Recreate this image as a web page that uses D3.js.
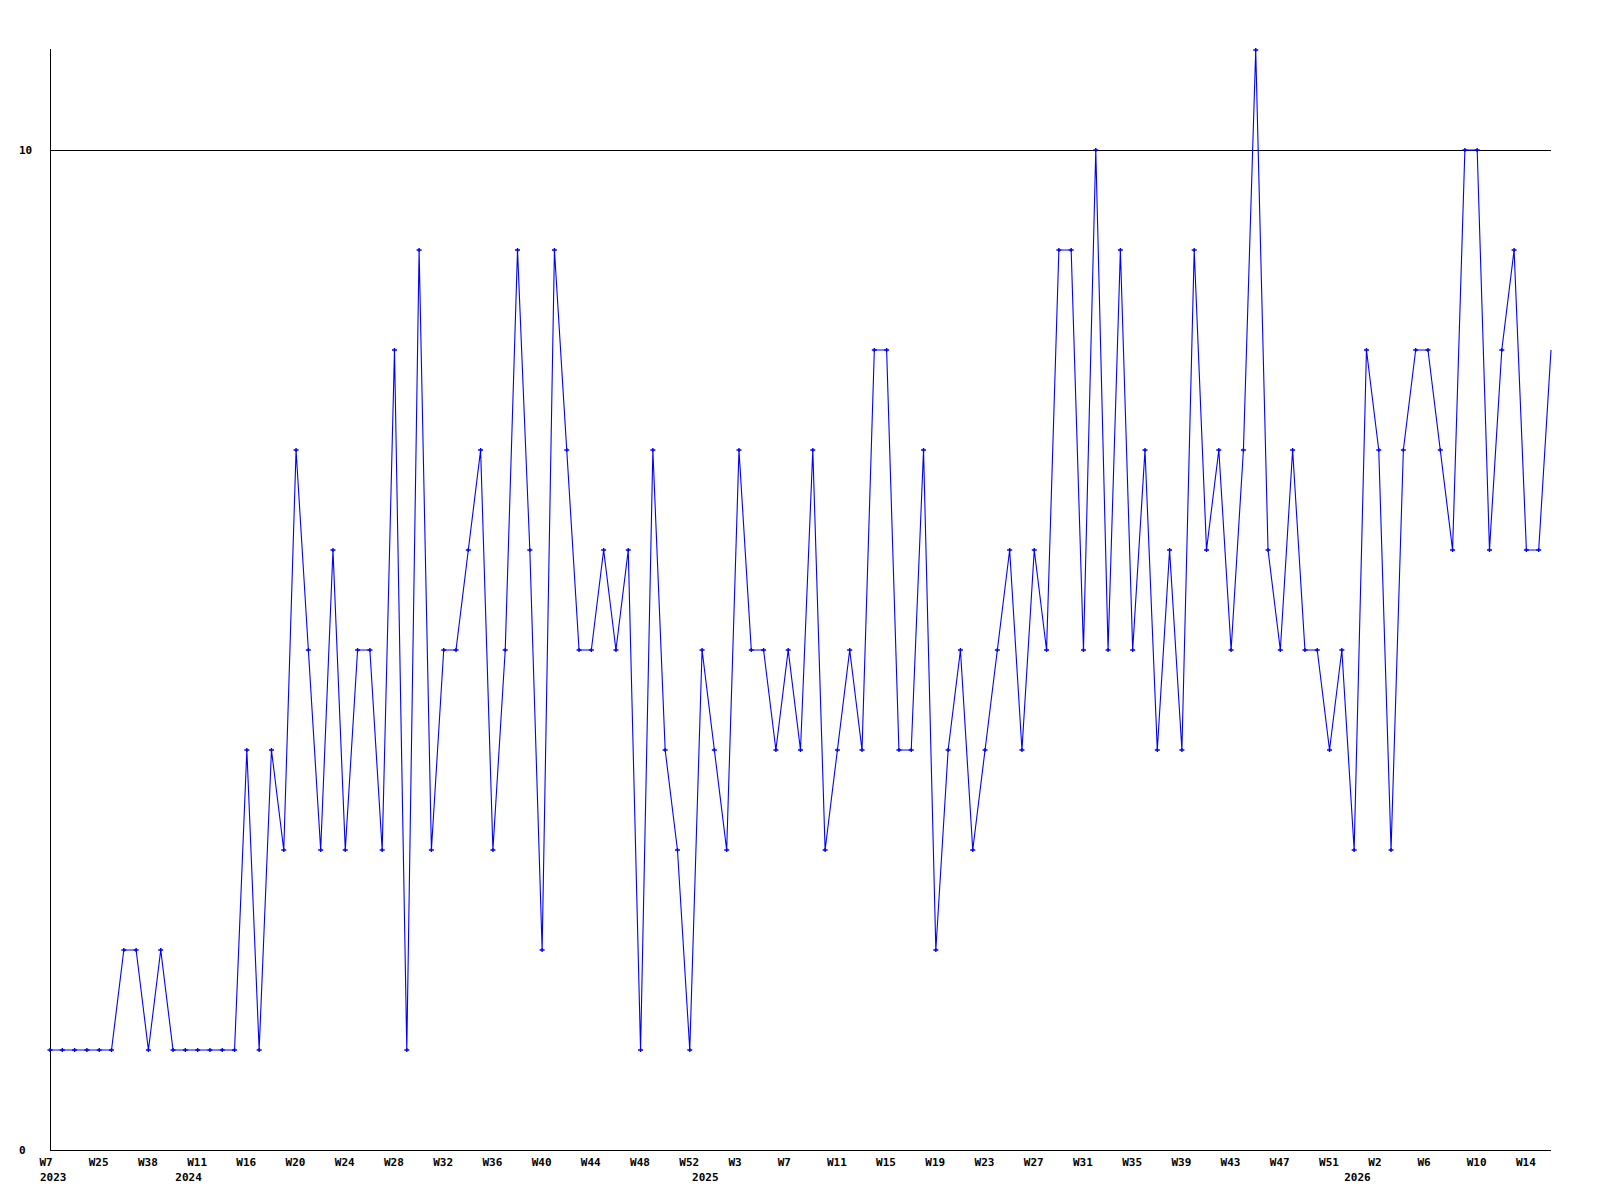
<!DOCTYPE html>
<html>
<head>
<meta charset="utf-8">
<script src="https://cdn.jsdelivr.net/npm/d3@7"></script>
<style>
  html, body { margin: 0; padding: 0; background: #fff; }
  svg { display: block; }
  text { font-family: "DejaVu Sans Mono", "Liberation Mono", monospace; font-weight: bold; font-size: 11px; fill: #000; }
</style>
</head>
<body>
<svg id="chart" width="1600" height="1200"></svg>
<script>
// ---- data ----
const categories = [
  "2023-W07","2023-W11","2023-W16","2023-W20","2023-W25","2023-W28","2023-W31","2023-W34","2023-W38","2023-W42",
  "2023-W47","2024-W02","2024-W11","2024-W12","2024-W13","2024-W15","2024-W16","2024-W17","2024-W18","2024-W19",
  "2024-W20","2024-W21","2024-W22","2024-W23","2024-W24","2024-W25","2024-W26","2024-W27","2024-W28","2024-W29",
  "2024-W30","2024-W31","2024-W32","2024-W33","2024-W34","2024-W35","2024-W36","2024-W37","2024-W38","2024-W39",
  "2024-W40","2024-W41","2024-W42","2024-W43","2024-W44","2024-W45","2024-W46","2024-W47","2024-W48","2024-W49",
  "2024-W50","2024-W51","2024-W52","2025-W00","2025-W01","2025-W02","2025-W03","2025-W04","2025-W05","2025-W06",
  "2025-W07","2025-W08","2025-W09","2025-W10","2025-W11","2025-W12","2025-W13","2025-W14","2025-W15","2025-W16",
  "2025-W17","2025-W18","2025-W19","2025-W20","2025-W21","2025-W22","2025-W23","2025-W24","2025-W25","2025-W26",
  "2025-W27","2025-W28","2025-W29","2025-W30","2025-W31","2025-W32","2025-W33","2025-W34","2025-W35","2025-W36",
  "2025-W37","2025-W38","2025-W39","2025-W40","2025-W41","2025-W42","2025-W43","2025-W44","2025-W45","2025-W46",
  "2025-W47","2025-W48","2025-W49","2025-W50","2025-W51","2025-W52","2026-W00","2026-W01","2026-W02","2026-W03",
  "2026-W04","2026-W05","2026-W06","2026-W07","2026-W08","2026-W09","2026-W10","2026-W11","2026-W12","2026-W13",
  "2026-W14","2026-W15","2026-W16"
];

const values = [
  1,1,1,1,1,1,2,2,1,2,
  1,1,1,1,1,1,4,1,4,3,
  7,5,3,6,3,5,5,3,8,1,
  9,3,5,5,6,7,3,5,9,6,
  2,9,7,5,5,6,5,6,1,7,
  4,3,1,5,4,3,7,5,5,4,
  5,4,7,3,4,5,4,8,8,4,
  4,7,2,4,5,3,4,5,6,4,
  6,5,9,9,5,10,5,9,5,7,
  4,6,4,9,6,7,5,7,11,6,
  5,7,5,5,4,5,3,8,7,3,
  7,8,8,7,6,10,10,6,8,9,
  6,6,8
];

const xTickCategories = [
  "2023-W07","2023-W25","2023-W38","2024-W11","2024-W16","2024-W20","2024-W24","2024-W28","2024-W32","2024-W36",
  "2024-W40","2024-W44","2024-W48","2024-W52","2025-W03","2025-W07","2025-W11","2025-W15","2025-W19","2025-W23",
  "2025-W27","2025-W31","2025-W35","2025-W39","2025-W43","2025-W47","2025-W51","2026-W02","2026-W06","2026-W10",
  "2026-W14"
];
const xTickLabels = [
  "W7","W25","W38","W11","W16","W20","W24","W28","W32","W36",
  "W40","W44","W48","W52","W3","W7","W11","W15","W19","W23",
  "W27","W31","W35","W39","W43","W47","W51","W2","W6","W10",
  "W14"
];

const yearLabels = ["2023","2024","2025","2026"];
const yearCategories = ["2023-W07","2024-W02","2025-W00","2026-W00"];

const yTicks = [0, 10];

// ---- layout ----
const plotLeft = 50, plotRight = 1551, plotTop = 50, plotBottom = 1150;
const svg = d3.select("#chart");

const x = d3.scalePoint().domain(categories).range([plotLeft, plotRight]);
const y = d3.scaleLinear().domain([0, 11]).range([plotBottom, plotTop]);

// grid line at 10
svg.append("g").selectAll("line").data(yTicks.filter(d => d > 0)).join("line")
  .attr("x1", plotLeft).attr("x2", plotRight)
  .attr("y1", d => Math.round(y(d)) + 0.5).attr("y2", d => Math.round(y(d)) + 0.5)
  .attr("stroke", "#000").attr("stroke-width", 1);

// axes lines
svg.append("line").attr("x1", plotLeft + 0.5).attr("x2", plotLeft + 0.5)
  .attr("y1", plotTop - 1).attr("y2", plotBottom + 0.5).attr("stroke", "#000");
svg.append("line").attr("x1", plotLeft).attr("x2", plotRight)
  .attr("y1", plotBottom + 0.5).attr("y2", plotBottom + 0.5).attr("stroke", "#000");

// y labels
svg.append("g").selectAll("text").data(yTicks).join("text")
  .attr("x", 19).attr("y", d => y(d) + 4)
  .attr("text-anchor", "start")
  .text(d => d);

// x tick labels (left-anchored just before each point)
const xAxis = d3.axisBottom(x).tickValues(xTickCategories)
  .tickFormat((d, i) => xTickLabels[i]).tickSize(0).tickPadding(0);
const gx = svg.append("g").attr("transform", `translate(0,${plotBottom})`).call(xAxis);
gx.select(".domain").remove();
gx.selectAll("text")
  .attr("y", 16).attr("dy", 0).attr("x", -11)
  .attr("text-anchor", "start")
  .style("font-family", "\"DejaVu Sans Mono\", monospace")
  .style("font-weight", "bold").style("font-size", "11px").attr("fill", "#000");

// year labels
svg.append("g").selectAll("text").data(yearLabels).join("text")
  .attr("x", (d, i) => x(yearCategories[i]) - 10)
  .attr("y", plotBottom + 31)
  .attr("text-anchor", "start")
  .text(d => d);

// line
const pts = categories.map((c, i) => ({ c, v: values[i], i }));
svg.append("path").datum(pts)
  .attr("fill", "none").attr("stroke", "#0000ff").attr("stroke-width", 1.1)
  .attr("d", d3.line().x(d => x(d.c)).y(d => y(d.v)));

// markers (last point has none)
svg.append("g").selectAll("path").data(pts.slice(0, pts.length - 1)).join("path")
  .attr("transform", d => `translate(${x(d.c)},${y(d.v)})`)
  .attr("d", "M-2.5,0H2.5M0,-2V2")
  .attr("stroke", "#0000ff").attr("stroke-width", 1.4).attr("fill", "none");
</script>
</body>
</html>
